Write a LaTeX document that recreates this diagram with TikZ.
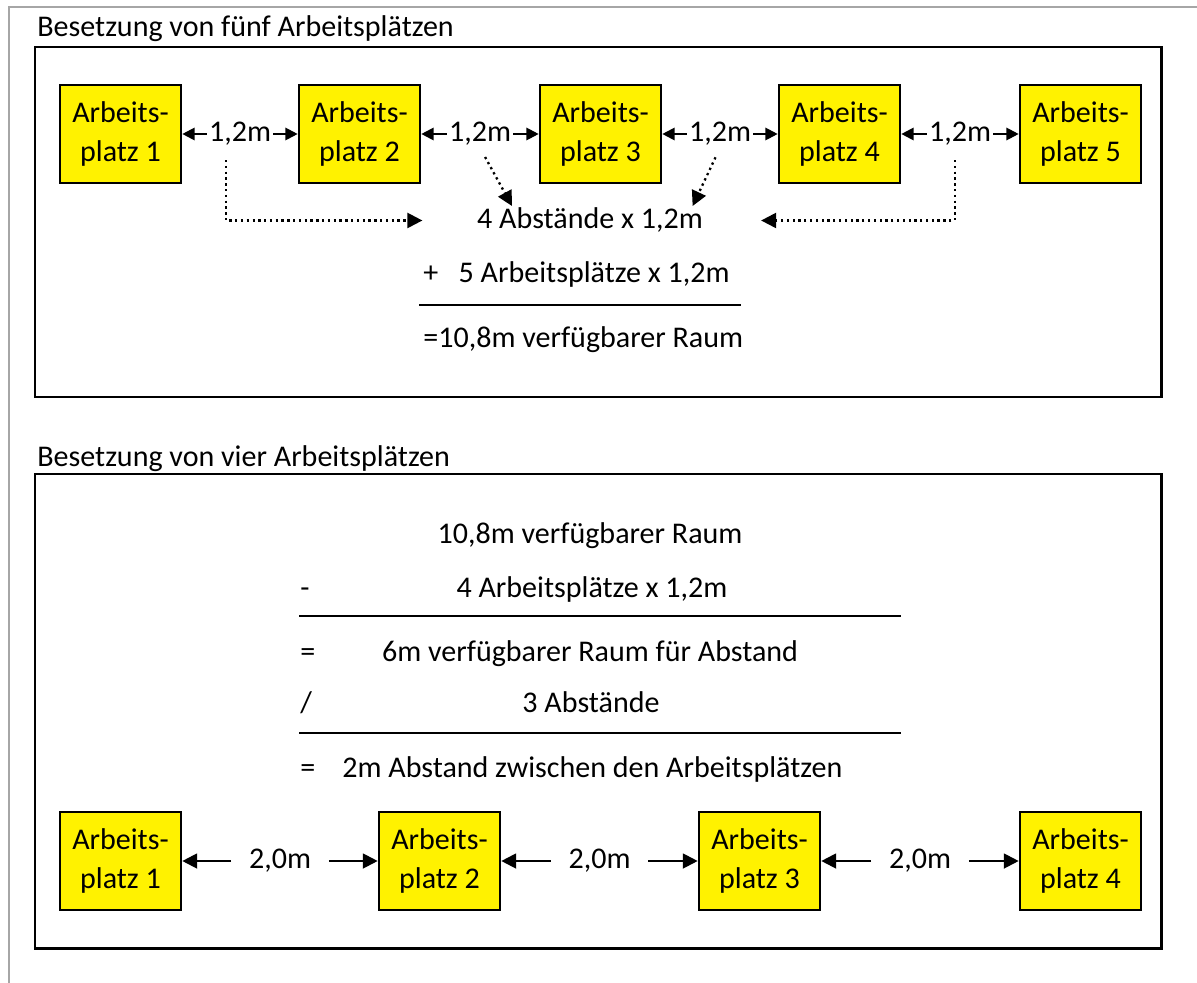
\documentclass[tikz,border=0pt]{standalone}
\usepackage{fontspec}
\setmainfont{Carlito}
\usetikzlibrary{arrows.meta}

\begin{document}
\begin{tikzpicture}[x=0.02cm,y=-0.02cm,font=\fontsize{17.1}{21.8}\selectfont,
  platz/.style={draw,fill=yellow,line width=1.5pt,align=center,minimum width=2.42cm,minimum height=1.96cm,inner sep=0pt},
  abst/.style={inner sep=1pt},
  zeile/.style={inner sep=0pt},
  pfeil/.style={line width=1.2pt,-{Triangle[length=7pt,width=7pt]}},
  langpfeil/.style={line width=1.2pt,shorten <=9pt,-{Triangle[length=8.5pt,width=8.5pt]}},
  punkt/.style={line width=1.3pt,dotted,-{Triangle[length=8.5pt,width=8.5pt]}},
  rahmen/.style={line width=1.7pt}]
\useasboundingbox (0,0) rectangle (1197,983);
\draw[gray!70,line width=1.1pt] (9,983)--(9,7)--(1197,7);

% fuenf Arbeitsplaetze
\node [zeile,anchor=base west,name=t1] at (37,37){Besetzung von fünf Arbeitsplätzen};
\draw[rahmen] (35,47) rectangle (1161,397);
\node [platz,name=p1] at (120.5,134){Arbeits-\\platz 1};
\node [platz,name=p2] at (359.5,134){Arbeits-\\platz 2};
\node [platz,name=p3] at (600.5,134){Arbeits-\\platz 3};
\node [platz,name=p4] at (839.5,134){Arbeits-\\platz 4};
\node [platz,name=p5] at (1080.5,134){Arbeits-\\platz 5};
\node [abst,name=m1] at (240,134){1,2m};
\node [abst,name=m2] at (480,134){1,2m};
\node [abst,name=m3] at (720,134){1,2m};
\node [abst,name=m4] at (960,134){1,2m};
\draw[pfeil] (m1)--(p1);
\draw[pfeil] (m1)--(p2);
\draw[pfeil] (m2)--(p2);
\draw[pfeil] (m2)--(p3);
\draw[pfeil] (m3)--(p3);
\draw[pfeil] (m3)--(p4);
\draw[pfeil] (m4)--(p4);
\draw[pfeil] (m4)--(p5);
\node [abst,anchor=base,name=sum] at (590,229){4 Abstände x 1,2m};
\draw[punkt,shorten <=7pt,shorten >=30pt] ([xshift=-8pt]m1.south) |- (sum.west);
\draw[punkt,shorten <=6pt] (m2.south) -- ([xshift=21pt]sum.north west);
\draw[punkt,shorten <=6pt] (m3.south) -- ([xshift=-7pt]sum.north east);
\draw[punkt,shorten <=7pt,shorten >=32pt] ([xshift=-3pt]m4.south) |- (sum.east);
\node [zeile,anchor=base west,name=plus] at (423,283){+\ \ \ 5 Arbeitsplätze x 1,2m};
\draw[line width=1.3pt] (419,305)--(741,305);
\node [zeile,anchor=base west,name=ges] at (423,347){=10,8m verfügbarer Raum};

% vier Arbeitsplaetze
\node [zeile,anchor=base west,name=t2] at (37,466){Besetzung von vier Arbeitsplätzen};
\draw[rahmen] (35,474) rectangle (1161,948);
\node [zeile,anchor=base,name=r1] at (590,543){10,8m verfügbarer Raum};
\node [zeile,anchor=base west,name=o1] at (300,597){-};
\node [zeile,anchor=base,name=r2] at (592,597){4 Arbeitsplätze x 1,2m};
\draw[line width=1.3pt] (299,616)--(901,616);
\node [zeile,anchor=base west,name=o2] at (300,661){=};
\node [zeile,anchor=base,name=r3] at (590,661){6m verfügbarer Raum für Abstand};
\node [zeile,anchor=base west,name=o3] at (300,712){/};
\node [zeile,anchor=base,name=r4] at (591,712){3 Abstände};
\draw[line width=1.3pt] (299,733)--(901,733);
\node [zeile,anchor=base west,name=o4] at (300,777){=};
\node [zeile,anchor=base west,name=r5] at (342,777){2m Abstand zwischen den Arbeitsplätzen};
\node [platz,name=q1] at (120.5,861){Arbeits-\\platz 1};
\node [platz,name=q2] at (439.5,861){Arbeits-\\platz 2};
\node [platz,name=q3] at (759.5,861){Arbeits-\\platz 3};
\node [platz,name=q4] at (1080.5,861){Arbeits-\\platz 4};
\node [abst,name=n1] at (280,861){2,0m};
\node [abst,name=n2] at (599.5,861){2,0m};
\node [abst,name=n3] at (920,861){2,0m};
\draw[langpfeil] (n1)--(q1);
\draw[langpfeil] (n1)--(q2);
\draw[langpfeil] (n2)--(q2);
\draw[langpfeil] (n2)--(q3);
\draw[langpfeil] (n3)--(q3);
\draw[langpfeil] (n3)--(q4);
\end{tikzpicture}
\end{document}
